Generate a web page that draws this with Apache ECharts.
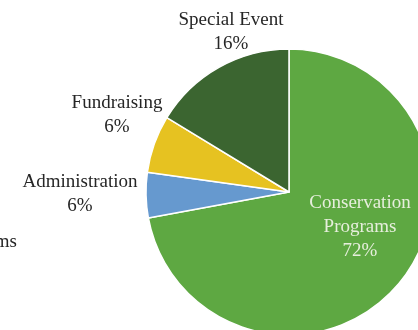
<!DOCTYPE html>
<html>
<head>
<meta charset="utf-8">
<script src="https://cdn.jsdelivr.net/npm/echarts@6/dist/echarts.min.js"></script>
<style>html,body{margin:0;padding:0;background:#fff;}#c{width:418px;height:330px;}</style>
</head>
<body>
<div id="c"></div>
<script>
var categories = ['Conservation Programs', 'Administration', 'Fundraising', 'Special Event'];
var values = [72.1, 5.1, 6.5, 16.3];
var percentLabels = ['72%', '6%', '6%', '16%'];
var labelNames = ['Conservation\nPrograms', 'Administration', 'Fundraising', 'Special Event'];
var colors = ['#5ea842', '#6699cf', '#e6c221', '#3b6530'];

var FONT = '"Liberation Serif", "DejaVu Serif", serif';
var cx = 289, cy = 192, R = 143;
// label anchor offsets relative to pie center
var labelOffsets = [[71, 35], [-209, 2], [-172, -77], [-58, -160]];

var chart = echarts.init(document.getElementById('c'), null, {renderer: 'canvas'});
chart.setOption({
  animation: false,
  backgroundColor: '#ffffff',
  graphic: [{
    type: 'text', x: 17, y: 242,
    style: {text: categories[0], fontFamily: FONT, fontSize: 19, fill: '#262626', align: 'right', verticalAlign: 'middle'}
  }],
  series: [{
    type: 'pie',
    center: [cx, cy],
    radius: R,
    startAngle: 90,
    clockwise: true,
    data: categories.map(function (c, i) {
      return {
        name: c, value: values[i],
        itemStyle: {color: colors[i], borderColor: '#ffffff', borderWidth: 1.5},
        label: {
          color: i === 0 ? '#e6eedc' : '#262626'
        }
      };
    }),
    label: {
      show: true,
      position: 'inside',
      fontFamily: FONT,
      fontSize: 19,
      lineHeight: 24,
      align: 'center',
      overflow: 'none',
      formatter: function (p) { return labelNames[p.dataIndex] + '\n' + percentLabels[p.dataIndex]; }
    },
    labelLine: {show: false},
    labelLayout: function (p) {
      var o = labelOffsets[p.dataIndex];
      return {x: cx + o[0], y: cy + o[1], align: 'center', verticalAlign: 'middle', hideOverlap: false};
    },
    emphasis: {disabled: true}
  }]
});
</script>
</body>
</html>
